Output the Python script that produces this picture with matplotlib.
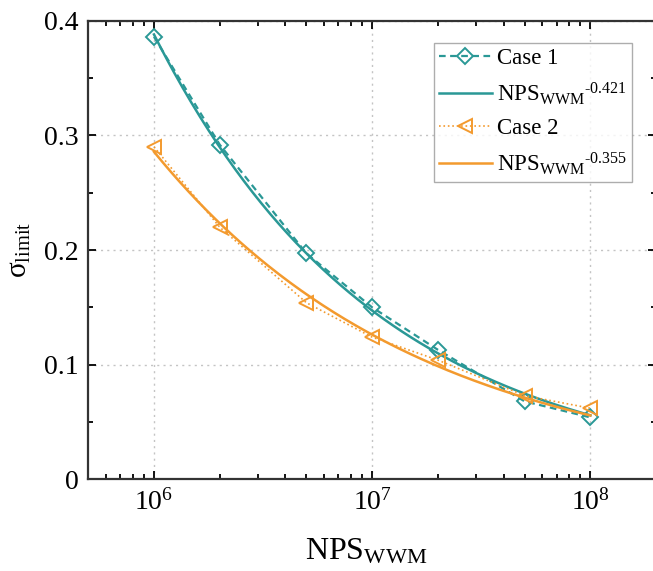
import numpy as np
import matplotlib
matplotlib.use("Agg")
import matplotlib.pyplot as plt
from matplotlib.ticker import LogLocator, MultipleLocator, NullFormatter

plt.rcParams['font.family'] = ['Liberation Serif', 'DejaVu Serif']
plt.rcParams['mathtext.fontset'] = 'custom'
plt.rcParams['mathtext.rm'] = 'Liberation Serif'
plt.rcParams['mathtext.it'] = 'Liberation Serif:italic'

# data
nps = [1e6, 2e6, 5e6, 1e7, 2e7, 5e7, 1e8]
case1 = [0.386, 0.292, 0.197, 0.150, 0.113, 0.068, 0.054]
case2 = [0.290, 0.220, 0.154, 0.124, 0.104, 0.073, 0.062]
exp1 = -0.421
exp2 = -0.355

teal = '#2A9896'
orange = '#F39A2E'


def power_fit(x, y, b):
    # least squares prefactor for y = a * x**b with fixed exponent
    x = np.asarray(x)
    y = np.asarray(y)
    a = np.sum(y * x**b) / np.sum(x**(2 * b))
    xs = np.logspace(6, 8, 200)
    return xs, a * xs**b


fig = plt.figure(figsize=(6.53, 5.71), dpi=100)
ax = fig.add_axes([0.1352, 0.1606, 0.8694, 0.8031])

fx1, fy1 = power_fit(nps, case1, exp1)
fx2, fy2 = power_fit(nps, case2, exp2)

ax.plot(nps, case1, ls=(0, (3, 2)), color=teal, lw=1.6, marker='D',
        ms=8, mfc='none', mec=teal, mew=1.4, label='Case 1')
ax.plot(fx1, fy1, '-', color=teal, lw=1.8,
        label=r'$\mathrm{NPS_{WWM}}^{\text{-0.421}}$')
ax.plot(nps, case2, ls=':', color=orange, lw=1.2, marker='<',
        ms=10, mfc='none', mec=orange, mew=1.4, label='Case 2')
ax.plot(fx2, fy2, '-', color=orange, lw=1.8,
        label=r'$\mathrm{NPS_{WWM}}^{\text{-0.355}}$')

ax.set_xscale('log')
ax.set_xlim(5e5, 2e8)
ax.set_ylim(0, 0.4)
ax.yaxis.set_major_locator(MultipleLocator(0.1))
ax.yaxis.set_minor_locator(MultipleLocator(0.05))
ax.yaxis.set_major_formatter(plt.FuncFormatter(lambda v, p: '0' if v == 0 else f'{v:.1f}'))
ax.xaxis.set_major_locator(LogLocator(base=10, numticks=10))
ax.xaxis.set_minor_locator(LogLocator(base=10, subs=np.arange(2, 10), numticks=20))
ax.xaxis.set_minor_formatter(NullFormatter())

ax.tick_params(which='both', direction='in', top=True, right=True,
               labelsize=20, width=1.3)
ax.tick_params(axis='y', pad=7)
ax.tick_params(axis='x', pad=7)
ax.tick_params(which='major', length=6)
ax.tick_params(which='minor', length=3.5)
for s in ax.spines.values():
    s.set_linewidth(1.6)
    s.set_color('#333333')

ax.grid(True, which='major', ls=(0, (1.5, 3)), color='#c4c4c4', lw=1)

ax.set_xlabel(r'NPS$_{\mathrm{WWM}}$', fontsize=23)
ax.xaxis.set_label_coords(0.49, -0.125)
ax.set_ylabel(r'σ$_{\mathrm{limit}}$', fontsize=21)
ax.yaxis.set_label_coords(-0.097, 0.5)

leg = ax.legend(loc='upper right', bbox_to_anchor=(632 / 653, 1 - 43 / 571),
                bbox_transform=fig.transFigure, fontsize=16.5, frameon=True,
                fancybox=False, edgecolor='#999999', handlelength=2.3,
                borderpad=0.2, labelspacing=0.5, handletextpad=0.25,
                borderaxespad=0)
leg.get_frame().set_linewidth(1.0)

fig.savefig('out.png', dpi=100)
